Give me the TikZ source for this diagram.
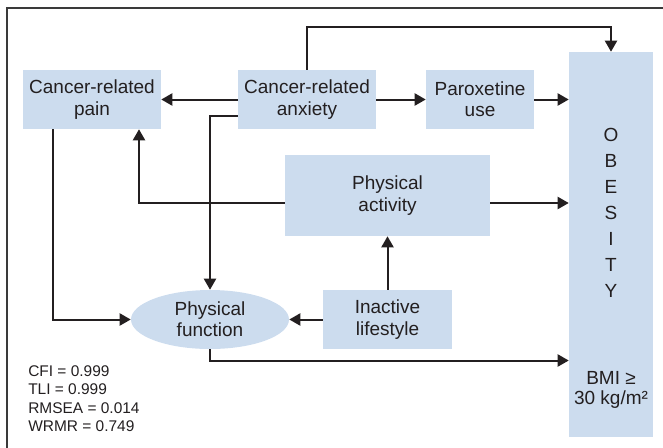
\documentclass[tikz,border=0pt]{standalone}
\usepackage{fontspec}
\setmainfont{Liberation Sans}
\usetikzlibrary{arrows.meta,shapes.geometric}
\definecolor{boxfill}{HTML}{CCDCEE}
\definecolor{ink}{HTML}{231F20}
\definecolor{framec}{HTML}{3A3A3A}
\begin{document}
\begin{tikzpicture}[x=0.75pt,y=-0.75pt,
  lbl/.style={text=ink, font=\fontsize{14.25}{16}\selectfont, align=center},
  box/.style={lbl, rectangle, fill=boxfill, draw=none, inner sep=0pt},
  oval/.style={lbl, ellipse, fill=boxfill, draw=none, inner sep=0pt},
  conn/.style={draw=ink, line width=1.5pt, -{Triangle[length=8.25pt,width=9pt]}},
  stats/.style={text=ink, font=\fontsize{11.6}{13.75}\selectfont, align=left, inner sep=0pt}]
\useasboundingbox (0,0) rectangle (663,447);
% frame
\draw[framec, line width=0.8pt] (7,470) -- (7,8) -- (700,8);
% nodes
\node[box, minimum width=138*0.75pt, minimum height=59*0.75pt] (pain) at (92,99.5) {Cancer-related\\pain};
\node[box, minimum width=138*0.75pt, minimum height=59*0.75pt] (anx) at (307,99.5) {Cancer-related\\anxiety};
\node[box, minimum width=108*0.75pt, minimum height=59*0.75pt] (par) at (480,99.5) {Paroxetine\\use};
\node[box, minimum width=84*0.75pt, minimum height=385*0.75pt] (ob) at (611,244.5) {};
\node[box, minimum width=205*0.75pt, minimum height=81*0.75pt] (pa) at (387.5,195.5) {Physical\\activity};
\node[box, minimum width=129*0.75pt, minimum height=59*0.75pt] (ia) at (387.5,319.5) {Inactive\\lifestyle};
\node[oval, minimum width=158*0.75pt, minimum height=59*0.75pt] (pf) at (210,319.5) {Physical\\function};
\node[lbl, font=\fontsize{14.25}{19.5}\selectfont, inner sep=0pt] (obt) at (611,213) {O\\B\\E\\S\\I\\T\\Y};
\node[lbl, font=\fontsize{14.25}{15}\selectfont, inner sep=0pt] (bmi) at (611,390) {BMI ≥\\30 kg/m²};
\node[stats, anchor=north west] (fit) at (28,365.5) {CFI = 0.999\\TLI = 0.999\\RMSEA = 0.014\\WRMR = 0.749};
% connectors
\draw[conn] (anx.west) -- (pain.east);
\draw[conn] (anx.east) -- (par.west);
\draw[conn] (par.east) -- (par.east -| ob.west);
\draw[conn] (anx.north) -- ++(0,-43) -| (ob.north);
\draw[conn] (anx.west) ++(0,16.5) -| (pf.north);
\draw[conn] (pain.south) ++(-39,0) |- (pf.west);
\draw[conn] (pa.west) ++(0,7.5) -| ([xshift=35.25pt]pain.south);
\draw[conn] (pa.east) ++(0,7.5) coordinate (pae) -- (pae -| ob.west);
\draw[conn] (ia.west) -- (pf.east);
\draw[conn] (ia.north) -- (pa.south);
\coordinate (fy) at (0,360.5);
\draw[conn] (pf.south) |- (fy -| ob.west);
\end{tikzpicture}
\end{document}
